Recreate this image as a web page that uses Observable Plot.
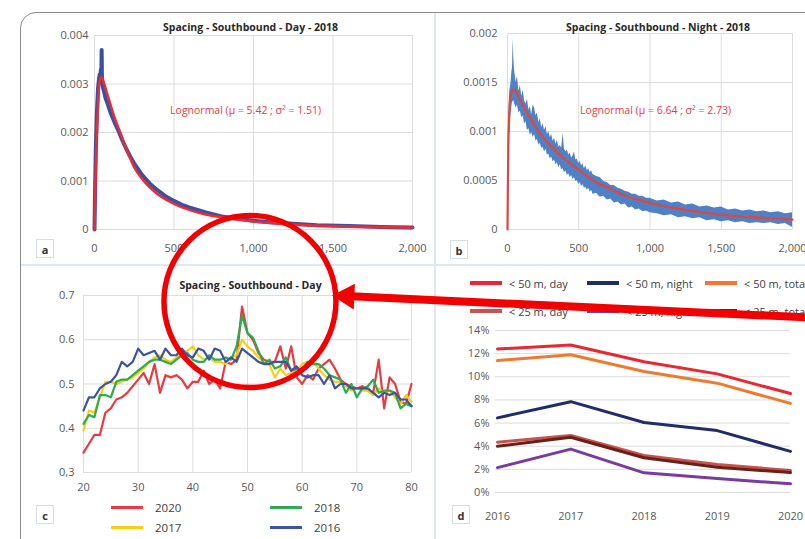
<!DOCTYPE html>
<html><head><meta charset="utf-8">
<script src="https://cdn.jsdelivr.net/npm/d3@7"></script>
<script src="https://cdn.jsdelivr.net/npm/@observablehq/plot@0.6"></script>
<style>
body{margin:0;background:#fff;font-family:"Open Sans",sans-serif;}
#root{position:relative;width:805px;height:539px;overflow:hidden;background:#fff;}
.frame{position:absolute;left:20px;top:12px;width:830px;height:570px;border:1.5px solid #8c8c8c;border-top-left-radius:16px;box-sizing:border-box;}
.vdiv{position:absolute;left:434px;top:13px;width:2px;height:540px;background:#dfe7ef;}
.hdiv{position:absolute;left:21px;top:264px;width:800px;height:2px;background:#dfe7ef;}
.tag{position:absolute;width:18px;height:19px;border:1px solid #d3dee9;font-size:11px;font-weight:bold;text-align:center;line-height:19px;color:#333;box-sizing:border-box;}
.panel{position:absolute;}
.panel svg{overflow:visible;display:block;}
.leg{position:absolute;height:16px;display:flex;align-items:center;white-space:nowrap;color:#404040;}
.leg .sw{display:inline-block;width:32px;}
</style>
</head><body>
<div id="root">
  <div class="frame"></div>
  <div class="vdiv"></div>
  <div class="hdiv"></div>
</div>
<script>
// ---------- Panel a ----------
const aTitle = "Spacing - Southbound - Day - 2018";
const aFit = "Lognormal (\u03bc = 5.42 ; \u03c3\u00b2 = 1.51)";
const aXTicks = [0, 500, 1000, 1500, 2000];
const aYTicks = [0, 0.001, 0.002, 0.003, 0.004];
const aYLabels = ["0", "0.001", "0.002", "0.003", "0.004"];
const aBlueX = [0,4,8,15,22,28,33,36,40,43,45,47,50,55,60,70,80,90,100,115,130,150,175,200,225,250,275,300,350,400,450,500,550,600,700,800,900,1000,1100,1250,1400,1600,1800,2000];
const aBlueY = [0,0.0009,0.0016,0.0024,0.0029,0.0031,0.0032,0.0031,0.0033,0.0032,0.0037,0.0031,0.0030,0.0029,0.00285,0.0027,0.00262,0.00252,0.00242,0.0023,0.00218,0.00204,0.00184,0.00166,0.0015,0.00136,0.00124,0.00112,0.00094,0.0008,0.00068,0.00059,0.00051,0.00045,0.00035,0.00027,0.00022,0.00018,0.00015,0.00012,0.00009,0.00007,0.00005,0.00004];
const aRedX = [0,5,10,20,30,40,50,60,75,100,125,150,200,250,300,400,500,600,700,800,1000,1200,1500,1750,2000];
const aRedY = [0,0.0008,0.0015,0.0024,0.0030,0.00314,0.00311,0.00302,0.00285,0.00258,0.00232,0.0021,0.00166,0.00128,0.00104,0.00072,0.00053,0.00040,0.00031,0.00025,0.000165,0.00011,0.00007,0.00005,0.00004];

// ---------- Panel b ----------
const bTitle = "Spacing - Southbound - Night - 2018";
const bFit = "Lognormal (\u03bc = 6.64 ; \u03c3\u00b2 = 2.73)";
const bXTicks = [0, 500, 1000, 1500, 2000];
const bYTicks = [0, 0.0005, 0.001, 0.0015, 0.002];
const bYLabels = ["0", "0.0005", "0.001", "0.0015", "0.002"];
const bBandX = [0,3,6,10,15,20,25,30,35,40,43,47,50,60,70,80,90,100,110,120,130,140,150,160,170,180,190,200,210,220,230,240,250,260,270,280,290,300,310,320,330,340,350,360,370,380,390,400,410,420,430,440,450,460,470,480,490,500,510,520,530,540,550,560,570,580,590,600,625,650,675,700,725,750,775,800,825,850,875,900,925,950,975,1000,1050,1100,1150,1200,1250,1300,1350,1400,1450,1500,1550,1600,1650,1700,1750,1800,1850,1900,1950,2000];
const bBandLo = [0,0.0003,0.0006,0.0008,0.001,0.0011,0.00118,0.00125,0.0013,0.0013,0.00132,0.0013,0.00128,0.00124,0.00127,0.00119,0.00121,0.00114,0.00116,0.00108,0.0011,0.00101,0.00103,0.00096,0.00099,0.00094,0.00097,0.0009,0.00092,0.00086,0.00088,0.00083,0.00084,0.00079,0.00082,0.00076,0.00077,0.00072,0.00074,0.00069,0.00071,0.00066,0.00068,0.00063,0.00066,0.00061,0.00062,0.00058,0.0006,0.00055,0.00057,0.00053,0.00055,0.00051,0.00053,0.00049,0.0005,0.00046,0.00048,0.00044,0.00046,0.00042,0.00043,0.0004,0.00042,0.00038,0.0004,0.00036,0.00037,0.00033,0.00034,0.0003,0.00031,0.00027,0.00028,0.00025,0.00026,0.00022,0.00023,0.0002,0.00021,0.00018,0.00019,0.00017,0.00016,0.00014,0.00015,0.00012,0.00013,0.00011,0.00012,0.00009,0.0001,0.00008,0.00009,0.00007,0.00008,0.00006,0.00007,0.00006,0.00007,0.00005,0.00006,0.00002];
const bBandHi = [0,0.0006,0.001,0.0012,0.0014,0.00145,0.0015,0.0016,0.00165,0.00195,0.0018,0.00168,0.00162,0.0015,0.00156,0.00141,0.00147,0.00136,0.00142,0.00131,0.00128,0.00133,0.00122,0.00125,0.00117,0.00127,0.00124,0.00116,0.00119,0.00109,0.00113,0.00104,0.00108,0.00101,0.00105,0.00097,0.001,0.00094,0.00097,0.0009,0.00093,0.00087,0.00091,0.00084,0.00086,0.00083,0.00098,0.00082,0.00079,0.00081,0.00076,0.00078,0.00073,0.00075,0.00079,0.00071,0.00072,0.00067,0.0007,0.00065,0.00067,0.00062,0.00065,0.0006,0.00062,0.00058,0.0006,0.00056,0.00054,0.00053,0.00049,0.00048,0.00045,0.00045,0.00042,0.00041,0.00039,0.00038,0.00036,0.00036,0.00034,0.00034,0.00032,0.00032,0.00029,0.0003,0.00027,0.00028,0.00025,0.00026,0.00023,0.00024,0.00022,0.00023,0.0002,0.00021,0.00019,0.0002,0.00018,0.00019,0.00017,0.00018,0.00016,0.00017];
const bRedX = [0,3,6,10,15,20,30,45,60,80,100,150,200,250,300,400,500,600,700,800,900,1000,1200,1400,1600,1800,2000];
const bRedY = [0,0.0005,0.00085,0.00108,0.00125,0.00134,0.00141,0.00143,0.00141,0.00135,0.00129,0.00116,0.00104,0.00094,0.00086,0.00072,0.00061,0.0005,0.00043,0.00036,0.00031,0.00027,0.00021,0.00017,0.000135,0.00012,0.0001];

// ---------- Panel c ----------
const cTitle = "Spacing - Southbound - Day";
const cAges = d3.range(20, 81);
const cXTicks = [20, 30, 40, 50, 60, 70, 80];
const cYTicks = [0.3, 0.4, 0.5, 0.6, 0.7];
const cYLabels = ["0,3", "0.4", "0.5", "0.6", "0.7"];
const cYears = ["2020", "2017", "2018", "2016"];
const cColors = ["#ea3a40", "#f9cf10", "#2eaa4f", "#3d53a4"];
const c2020 = [0.345,0.365,0.385,0.385,0.435,0.445,0.465,0.47,0.48,0.495,0.51,0.525,0.50,0.545,0.48,0.52,0.515,0.52,0.51,0.49,0.505,0.505,0.53,0.50,0.51,0.49,0.55,0.545,0.555,0.675,0.615,0.60,0.57,0.555,0.55,0.55,0.585,0.535,0.585,0.515,0.50,0.52,0.51,0.535,0.545,0.555,0.535,0.51,0.50,0.495,0.49,0.495,0.485,0.48,0.555,0.445,0.515,0.50,0.46,0.455,0.50];
const c2017 = [0.395,0.44,0.435,0.47,0.505,0.505,0.50,0.505,0.51,0.515,0.525,0.535,0.55,0.56,0.565,0.555,0.55,0.56,0.57,0.575,0.585,0.565,0.555,0.56,0.55,0.55,0.545,0.56,0.565,0.60,0.585,0.575,0.56,0.55,0.545,0.515,0.535,0.52,0.525,0.53,0.545,0.55,0.55,0.535,0.52,0.51,0.505,0.505,0.495,0.485,0.49,0.485,0.485,0.475,0.49,0.48,0.485,0.47,0.455,0.475,0.46];
const c2018 = [0.41,0.43,0.425,0.475,0.475,0.47,0.505,0.51,0.51,0.52,0.53,0.54,0.55,0.555,0.555,0.55,0.545,0.555,0.565,0.57,0.555,0.55,0.55,0.565,0.555,0.555,0.56,0.555,0.585,0.655,0.615,0.605,0.575,0.545,0.555,0.535,0.54,0.56,0.53,0.535,0.53,0.55,0.545,0.545,0.535,0.52,0.515,0.51,0.48,0.50,0.47,0.49,0.495,0.51,0.48,0.485,0.485,0.48,0.445,0.455,0.45];
const c2016 = [0.44,0.47,0.47,0.49,0.50,0.505,0.52,0.55,0.54,0.55,0.58,0.565,0.57,0.575,0.555,0.58,0.565,0.565,0.58,0.565,0.56,0.58,0.575,0.555,0.58,0.575,0.55,0.56,0.55,0.58,0.57,0.56,0.55,0.545,0.545,0.55,0.55,0.55,0.53,0.54,0.52,0.515,0.52,0.52,0.50,0.52,0.49,0.50,0.50,0.49,0.49,0.49,0.49,0.48,0.47,0.48,0.475,0.48,0.465,0.465,0.45];
// annotation (red circle + arrow), in panel c's data space
const noteCircle = [{x: 50.45, y: 0.6864}];
const noteArrow = [{x1: 156.6, y1: 0.648, x2: 68.1, y2: 0.6986}];
const noteHead = [{x: 65.55, y: 0.70}];

// ---------- Panel d ----------
const dYears = [2016, 2017, 2018, 2019, 2020];
const dYTicks = [0, 2, 4, 6, 8, 10, 12, 14];
const dSeries = ["< 50 m, day", "< 50 m, night", "< 50 m, total", "< 25 m, day", "< 25 m, night", "< 25 m, total"];
const dColors = ["#ec2630", "#1f2d6b", "#ee7a30", "#c5544f", "#7a3b9e", "#6b1f17"];
const d50Day = [12.4, 12.75, 11.3, 10.25, 8.55];
const d50Night = [6.45, 7.85, 6.05, 5.35, 3.55];
const d50Total = [11.4, 11.9, 10.45, 9.45, 7.7];
const d25Day = [4.35, 4.93, 3.2, 2.42, 1.9];
const d25Night = [2.15, 3.75, 1.7, 1.2, 0.75];
const d25Total = [4.0, 4.78, 3.0, 2.19, 1.72];

// ================= build =================
const root = document.getElementById("root");
const baseStyle = {fontFamily: "'Open Sans', sans-serif", fontSize: "11px", color: "#595959", background: "transparent", overflow: "visible"};
const grid = "#dcdcdc";
function place(node, left, top, w, z) {
  const div = document.createElement("div");
  div.className = "panel";
  div.style.left = left + "px"; div.style.top = top + "px"; div.style.width = w + "px";
  div.style.zIndex = z;
  div.appendChild(node);
  root.appendChild(div);
}
function tag(letter, left, top) {
  const t = document.createElement("div");
  t.className = "tag"; t.textContent = letter;
  t.style.left = left + "px"; t.style.top = top + "px";
  root.appendChild(t);
}
function legendItem(label, color, left, cy, gap, thick, fs) {
  const it = document.createElement("div");
  it.className = "leg";
  it.style.left = left + "px"; it.style.top = (cy - 8) + "px"; it.style.fontSize = fs + "px";
  const sw = document.createElement("span");
  sw.className = "sw"; sw.style.height = thick + "px"; sw.style.background = color; sw.style.marginRight = gap + "px";
  const tx = document.createElement("span"); tx.textContent = label;
  it.appendChild(sw); it.appendChild(tx);
  root.appendChild(it);
  return it;
}
const zip = (xs, ys) => xs.map((x, i) => ({x, y: ys[i]}));
const mapFmt = (ticks, labels) => { const m = new Map(ticks.map((t, i) => [t, labels[i]])); return d => m.get(d); };

// Panel a
const pa = Plot.plot({
  width: 415, height: 253, marginLeft: 74, marginRight: 23, marginTop: 23, marginBottom: 36,
  style: baseStyle,
  x: {domain: [0, 2000], label: null},
  y: {domain: [0, 0.004], label: null},
  marks: [
    Plot.ruleX(aXTicks, {stroke: grid}),
    Plot.ruleY(aYTicks, {stroke: grid}),
    Plot.axisX({ticks: aXTicks, tickSize: 0, tickPadding: 15, tickFormat: d3.format(","), label: null}),
    Plot.axisY({ticks: aYTicks, tickSize: 0, tickPadding: 6, tickFormat: mapFmt(aYTicks, aYLabels), label: null}),
    Plot.line(zip(aBlueX, aBlueY), {x: "x", y: "y", stroke: "#3a50a2", strokeWidth: 4}),
    Plot.line(zip(aRedX, aRedY), {x: "x", y: "y", stroke: "#ee2a35", strokeWidth: 2.5, curve: "monotone-x"}),
    Plot.text([aTitle], {text: d => d, frameAnchor: "top", dy: -12, dx: -3, fontWeight: "bold", fill: "#262626", fontSize: 10.5}),
    Plot.text([aFit], {text: d => d, x: () => 950, y: () => 0.00245, fill: "#ee3a45", fontSize: 10.5})
  ]
});
place(pa, 20, 12, 415, 1);

// Panel b
const pb = Plot.plot({
  width: 370, height: 253, marginLeft: 72, marginRight: 13, marginTop: 21, marginBottom: 36,
  style: baseStyle,
  x: {domain: [0, 2000], label: null},
  y: {domain: [0, 0.002], label: null},
  marks: [
    Plot.ruleX(bXTicks, {stroke: grid}),
    Plot.ruleY(bYTicks, {stroke: grid}),
    Plot.axisX({ticks: bXTicks, tickSize: 0, tickPadding: 15, tickFormat: d3.format(","), label: null}),
    Plot.axisY({ticks: bYTicks, tickSize: 0, tickPadding: 10, tickFormat: mapFmt(bYTicks, bYLabels), label: null}),
    Plot.areaY(bBandX.map((x, i) => ({x, lo: bBandLo[i], hi: bBandHi[i]})), {x: "x", y1: "lo", y2: "hi", fill: "#4f81c7"}),
    Plot.line(zip(bRedX, bRedY), {x: "x", y: "y", stroke: "#e0463c", strokeWidth: 2.2, curve: "monotone-x"}),
    Plot.text([bTitle], {text: d => d, frameAnchor: "top", dy: -10, dx: 8, fontWeight: "bold", fill: "#262626", fontSize: 10.5}),
    Plot.text([bFit], {text: d => d, x: () => 1039, y: () => 0.001216, fill: "#ee3a45", fontSize: 10.5})
  ]
});
place(pb, 435, 12, 370, 1);

// Panel d
const dRows = [];
const dVals = [d50Day, d50Night, d50Total, d25Day, d25Night, d25Total];
dSeries.forEach((s, k) => dYears.forEach((yr, i) => dRows.push({series: s, year: yr, value: dVals[k][i]})));
const pd = Plot.plot({
  width: 370, height: 274, marginLeft: 62, marginRight: 15, marginTop: 65, marginBottom: 47,
  style: baseStyle,
  x: {domain: [2016, 2020], label: null},
  y: {domain: [0, 14], label: null},
  color: {domain: dSeries, range: dColors},
  marks: [
    Plot.ruleY(dYTicks, {stroke: grid, x1: 2016 - 0.03, x2: 2020}),
    Plot.axisX({ticks: dYears, tickSize: 0, tickPadding: 20, tickFormat: d => String(d), label: null}),
    Plot.axisY({ticks: dYTicks, tickSize: 0, tickPadding: 8, tickFormat: d => d + "%", label: null}),
    Plot.line(dRows, {x: "year", y: "value", stroke: "series", z: "series", strokeWidth: 3})
  ]
});
place(pd, 435, 265, 370, 1);

// Panel c
const cVals = [c2020, c2017, c2018, c2016];
const cRows = [];
cYears.forEach((yr, k) => cAges.forEach((a, i) => cRows.push({year: yr, age: a, v: cVals[k][i]})));
const pc = Plot.plot({
  width: 415, height: 274, marginLeft: 63, marginRight: 24, marginTop: 30, marginBottom: 67,
  style: baseStyle,
  x: {domain: [20, 80], label: null},
  y: {domain: [0.3, 0.7], label: null},
  color: {domain: cYears, range: cColors},
  marks: [
    Plot.ruleX(cXTicks, {stroke: grid}),
    Plot.ruleY(cYTicks, {stroke: grid}),
    Plot.axisX({ticks: cXTicks, tickSize: 0, tickPadding: 11, label: null}),
    Plot.axisY({ticks: cYTicks, tickSize: 0, tickPadding: 9, tickFormat: mapFmt(cYTicks, cYLabels), label: null}),
    Plot.line(cRows, {x: "age", y: "v", stroke: "year", z: "year", strokeWidth: 2.2}),
    Plot.text([cTitle], {text: d => d, frameAnchor: "top", dy: -14, dx: 3, fontWeight: "bold", fill: "#262626", fontSize: 10.5}),
    Plot.dot(noteCircle, {x: "x", y: "y", r: 86, stroke: "#f20000", strokeWidth: 5.5, fill: "none"}),
    Plot.link(noteArrow, {x1: "x1", y1: "y1", x2: "x2", y2: "y2", stroke: "#f20000", strokeWidth: 8}),
    Plot.dot(noteHead, {x: "x", y: "y", symbol: "triangle", r: 9.6, rotate: -87.35, fill: "#f20000", stroke: "none", dx: 14.4, dy: 0.7})
  ]
});
place(pc, 20, 265, 415, 5);

// tags
tag("a", 36, 239); tag("b", 450, 240); tag("c", 36, 505); tag("d", 452, 505);

// legend c
const cLegPos = [[111, 507], [111, 527], [270, 507], [270, 527]]; // 2020, 2017, 2018, 2016
cYears.forEach((yr, k) => legendItem(yr, cColors[k], cLegPos[k][0], cLegPos[k][1], 12, 3, 11.5));
// legend d
const dLegPos = [[470, 283], [587, 283], [705, 283], [470, 311], [587, 311], [705, 311]];
dSeries.forEach((s, k) => legendItem(s, dColors[k], dLegPos[k][0], dLegPos[k][1], 7, 4, 11));
</script>
</body></html>
